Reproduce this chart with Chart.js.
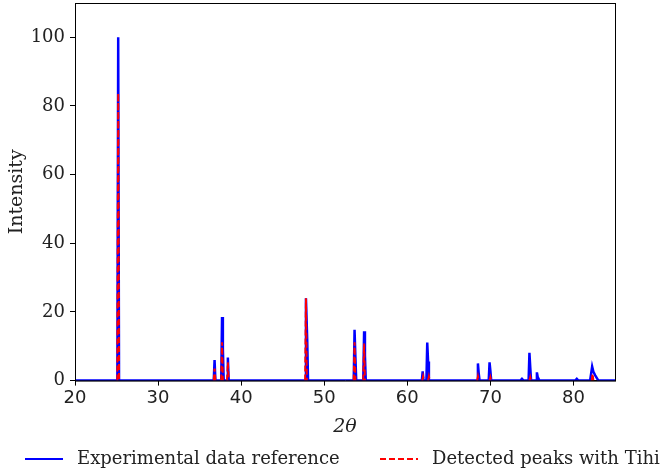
<!DOCTYPE html>
<html>
<head>
<meta charset="utf-8">
<script src="https://cdn.jsdelivr.net/npm/chart.js@4/dist/chart.umd.min.js"></script>
<style>
  html, body { margin: 0; padding: 0; background: #fff; overflow: hidden; }
</style>
</head>
<body>
<canvas id="myChart" width="664" height="472"></canvas>
<script>
// measured pattern (2theta, intensity)
const expTheta = [20, 25.1, 25.2, 25.3, 36.7, 36.8, 36.9, 37.6, 37.7, 37.8, 37.9, 38.3, 38.4, 38.5,
	47.7, 47.8, 47.95, 48.05, 53.55, 53.65, 53.75, 53.85, 54.7, 54.8, 54.9, 55.0, 61.75, 61.85, 61.95,
	62.3, 62.4, 62.5, 62.6, 68.4, 68.5, 68.6, 68.7, 69.8, 69.9, 70.0, 70.1, 73.6, 73.8, 74.0,
	74.6, 74.7, 74.8, 74.9, 75.5, 75.6, 75.7, 75.9, 80.2, 80.4, 80.6, 82.0, 82.25, 82.4, 82.6, 82.8, 83.0, 85];
const expIntensity = [0, 0, 100, 0, 0, 6.0, 0, 0, 18.5, 9.3, 0, 0, 6.7, 0,
	0, 24, 12, 0, 0, 14.8, 7, 0, 0, 14.4, 7.3, 0, 0, 2.7, 0,
	0, 11.1, 5.6, 0, 0, 5.0, 2.0, 0, 0, 5.3, 2.8, 0, 0, 0.5, 0,
	0, 8.1, 3.9, 0, 0, 2.4, 1.0, 0, 0, 0.5, 0, 0, 4.1, 2.6, 1.6, 0.8, 0, 0];

// detected peaks (null = no detection)
const peakTheta = [25.1, 25.2, 25.3, 30, 36.7, 36.8, 36.9, 37, 37.6, 37.7, 37.8, 38, 38.3, 38.4, 38.5, 40,
	47.7, 47.8, 47.9, 50, 53.55, 53.65, 53.75, 54, 54.7, 54.8, 54.9, 58, 61.8, 61.9, 62.0, 62.2,
	62.5, 62.6, 62.7, 65, 68.4, 68.5, 68.6, 69, 69.9, 70.0, 70.1, 72, 74.7, 74.8, 74.9, 78, 82.2, 82.3, 82.4];
const peakIntensity = [0, 83.7, 0, null, 0, 3.5, 0, null, 0, 11.2, 0, null, 0, 5.3, 0, null,
	0, 24, 0, null, 0, 11.2, 0, null, 0, 10.8, 0, null, 0, 1.2, 0, null,
	0, 1.2, 0, null, 0, 1.2, 0, null, 0, 1.0, 0, null, 0, 1.0, 0, null, 0, 2.0, 0];

const xTicks = [20, 30, 40, 50, 60, 70, 80];
const yTicks = [0, 20, 40, 60, 80, 100];

const pairs = (xs, ys) => xs.map((x, i) => ({ x: x, y: ys[i] }));

// frame round the axes (top + right spines)
const frame = {
	id: 'frame',
	afterDatasetsDraw(chart) {
		const { ctx, chartArea: a } = chart;
		ctx.save();
		ctx.strokeStyle = '#000';
		ctx.lineWidth = 1;
		ctx.strokeRect(a.left + 0.5, a.top + 0.5, a.right - a.left, a.bottom - a.top);
		ctx.restore();
	}
};

// legend row under the axis, spaced like the original figure
const legendRow = {
	id: 'legendRow',
	afterDraw(chart) {
		const { ctx } = chart;
		const starts = [25, 380];
		const y = 459;
		ctx.save();
		ctx.font = '18px "DejaVu Serif"';
		ctx.textBaseline = 'middle';
		chart.data.datasets.forEach((ds, i) => {
			const x0 = starts[i];
			ctx.strokeStyle = ds.borderColor;
			ctx.lineWidth = 2;
			ctx.setLineDash(ds.borderDash || []);
			ctx.beginPath();
			ctx.moveTo(x0, y);
			ctx.lineTo(x0 + 38, y);
			ctx.stroke();
			ctx.setLineDash([]);
			ctx.fillStyle = '#222';
			ctx.fillText(ds.label, x0 + 52, y);
		});
		ctx.restore();
	}
};

const ctx = document.getElementById('myChart').getContext('2d');

new Chart(ctx, {
	type: 'line',
	data: {
		datasets: [
			{
				label: 'Experimental data reference',
				data: pairs(expTheta, expIntensity),
				borderColor: '#0000ff',
				backgroundColor: '#0000ff',
				borderWidth: 2.5,
				pointRadius: 0,
				tension: 0,
				fill: false,
				order: 1,
			},
			{
				label: 'Detected peaks with Tihi',
				data: pairs(peakTheta, peakIntensity),
				borderColor: '#ff0000',
				backgroundColor: '#ff0000',
				borderWidth: 2,
				borderDash: [6, 3],
				pointRadius: 0,
				tension: 0,
				spanGaps: false,
				fill: false,
				order: 0,
			},
		],
	},
	options: {
		responsive: false,
		animation: false,
		layout: { padding: { top: 3, right: 49, left: 1, bottom: 32 } },
		plugins: {
			tooltip: { enabled: false },
			legend: { display: false },
		},
		scales: {
			x: {
				type: 'linear',
				min: 20,
				max: 85,
				afterBuildTicks: (s) => { s.ticks = xTicks.map(v => ({ value: v })); },
				ticks: { color: '#222', font: { family: 'DejaVu Sans', size: 18 }, padding: 2 },
				grid: { drawOnChartArea: false, drawTicks: true, tickLength: 5, color: '#000' },
				border: { color: '#000', width: 1 },
				title: { display: true, text: '2θ', color: '#222', font: { family: 'DejaVu Serif', size: 19, style: 'italic' }, padding: { top: 4, bottom: 2 } },
			},
			y: {
				type: 'linear',
				min: 0,
				max: 110,
				afterBuildTicks: (s) => { s.ticks = yTicks.map(v => ({ value: v })); },
				afterFit: (s) => { s.width = 74; s.paddingTop = 0; },
				ticks: { color: '#222', font: { family: 'DejaVu Serif', size: 18 }, padding: 5 },
				grid: { drawOnChartArea: false, drawTicks: true, tickLength: 5, color: '#000' },
				border: { color: '#000', width: 1 },
				title: { display: true, text: 'Intensity', color: '#222', font: { family: 'DejaVu Serif', size: 19 }, padding: { top: 5, bottom: 0 } },
			},
		},
	},
	plugins: [frame, legendRow],
});
</script>
</body>
</html>
